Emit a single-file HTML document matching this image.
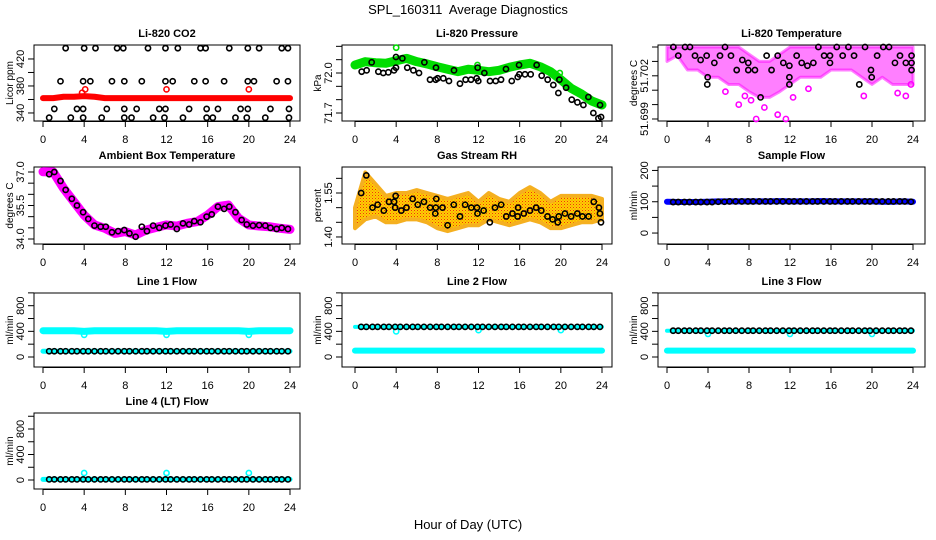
<!DOCTYPE html>
<html><head><meta charset="utf-8"><style>
html,body{margin:0;padding:0;background:#fff;}
svg{display:block;font-family:"Liberation Sans",sans-serif;}
</style></head><body>
<svg id="c" width="936" height="540" viewBox="0 0 936 540" xmlns="http://www.w3.org/2000/svg">
<defs><pattern id="rhpat" width="3" height="3" patternUnits="userSpaceOnUse"><rect width="3" height="3" fill="#ffd000"/><rect width="1" height="1" fill="#f03010"/><rect x="1.5" y="1.5" width="1" height="1" fill="#f07010"/></pattern></defs>
<text x="468" y="14" text-anchor="middle" font-size="13" xml:space="preserve">SPL_160311  Average Diagnostics</text>
<text x="468" y="529" text-anchor="middle" font-size="13">Hour of Day (UTC)</text>
</svg>
<script>
// ---------- data ----------
const hours = [0,1,2,3,4,5,6,7,8,9,10,11,12,13,14,15,16,17,18,19,20,21,22,23,24];
const blackHours = [0.6,1.1,1.7,2.2,2.8,3.3,3.9,4.4,5.0,5.6,6.1,6.7,7.3,7.9,8.4,9.0,9.6,10.1,10.7,11.3,11.9,12.4,13.0,13.6,14.2,14.7,15.3,15.9,16.4,17.0,17.6,18.1,18.7,19.3,19.8,20.4,21.0,21.6,22.1,22.7,23.2,23.8];
const xTicks = [0,4,8,12,16,20,24];
// CO2
const co2Red = [362,362,364,364,365,364,362,362,362,362,362,362,362,362,362,362,362,362,362,362,362,362,362,362,362];
const co2RedSpikeH = [3.8,4.1,12.0,20.0];
const co2RedSpikeV = [370,375,375,375];
const co2BlkH = [2.2,4.0,5.1,7.2,7.8,10.2,11.9,13.1,15.3,15.8,18.1,19.9,21.0,23.2,23.8, 1.7,3.9,4.6,6.7,7.9,9.6,11.9,12.6,14.7,15.8,17.6,19.9,20.5,22.7,23.8, 1.1,3.3,3.9,6.2,7.9,9.1,11.3,11.9,14.2,15.9,17.0,19.2,19.9,22.1,23.9, 0.6,2.7,3.9,5.7,7.9,8.6,10.7,11.8,13.6,15.9,16.5,18.7,19.8,21.6,23.9];
const co2BlkV = [436,436,436,436,436,436,436,436,436,436,436,436,436,436,436, 387,387,387,387,387,387,387,387,387,387,387,387,387,387,387, 346,346,346,346,346,346,346,346,346,346,346,346,346,346,346, 333,333,333,333,333,333,333,333,333,333,333,333,333,333,333];
// Pressure
const presGreen = [72.06,72.085,72.077,72.073,72.092,72.11,72.085,72.068,72.047,72.028,72.01,72.028,72.02,72.01,72.02,72.043,72.06,72.073,72.047,72.01,71.95,71.885,71.843,71.79,71.76];
const presGreenOutH = [4.0,11.9,19.9];
const presGreenOutV = [72.19,72.06,72.0];
const presBlkH = [0.65,1.13,1.62,2.27,2.75,3.24,3.79,3.98,3.98,4.6,5.08,5.67,6.22,6.74,7.29,7.84,7.87,8.03,8.58,9.13,9.62,10.2,10.75,11.27,11.82,11.98,11.92,12.57,13.12,13.67,14.19,14.67,15.23,15.81,15.94,15.97,16.52,17.07,17.65,18.14,18.72,19.27,19.76,19.86,20.51,21.06,21.61,22.19,22.68,23.16,23.65,23.91,23.81];
const presBlkV = [72.01,72.02,72.08,72.01,72.0,72.005,72.02,72.04,72.12,72.11,72.04,72.02,72.0,72.08,71.95,71.95,72.04,71.96,71.96,71.94,72.02,71.92,71.95,71.95,71.96,71.94,72.04,72.0,71.94,71.94,71.95,72.03,71.94,71.97,72.06,71.99,71.99,71.99,72.06,71.98,71.95,71.91,71.85,71.95,71.89,71.8,71.78,71.76,71.82,71.7,71.66,71.67,71.76];
// Li-820 temperature
const tempHi = [51.704,51.704,51.704,51.704,51.704,51.704,51.704,51.704,51.7035,51.703,51.703,51.7035,51.704,51.704,51.704,51.704,51.704,51.704,51.704,51.704,51.704,51.704,51.704,51.704,51.704];
const tempLo = [51.7030,51.7034,51.7024,51.7024,51.7019,51.7019,51.7014,51.7014,51.7009,51.7005,51.7005,51.7009,51.7014,51.7019,51.7019,51.7019,51.7024,51.7024,51.7024,51.7019,51.7014,51.7019,51.7014,51.7014,51.7014];
const tempMagOutH = [5.7,7.0,7.6,8.2,8.7,9.5,10.8,11.6,12.3,13.8,19.2,22.5,23.3,23.8];
const tempMagOutV = [51.7009,51.7000,51.7006,51.7003,51.6990,51.6998,51.6993,51.6990,51.7005,51.7011,51.7006,51.7008,51.7006,51.7014];
const tempBlkH = [0.62,1.1,1.76,2.24,2.73,3.28,3.87,3.97,3.93,4.62,5.17,5.66,6.24,6.8,7.35,7.93,7.93,8.58,9.13,9.72,10.2,10.8,11.35,11.94,11.94,11.94,12.65,13.14,13.7,14.28,14.77,15.33,15.9,15.9,16.56,17.14,17.7,18.25,18.76,19.32,19.9,19.97,20.5,21.1,21.66,22.24,22.73,23.3,23.86,23.86,23.86];
const tempBlkV = [51.704,51.7034,51.704,51.704,51.7034,51.7031,51.7034,51.7019,51.7014,51.7029,51.7034,51.704,51.7034,51.7024,51.7031,51.7029,51.7024,51.7024,51.7005,51.7034,51.7024,51.7034,51.7029,51.7027,51.7019,51.7014,51.7034,51.7029,51.7027,51.7029,51.704,51.7034,51.7034,51.7029,51.704,51.7034,51.704,51.7034,51.7014,51.704,51.7024,51.7019,51.7034,51.704,51.704,51.7029,51.7034,51.7029,51.7034,51.7029,51.7024];
// Ambient box temperature
const ambMag = [37.01,37.0,36.27,35.67,35.07,34.63,34.48,34.25,34.33,34.18,34.40,34.52,34.63,34.58,34.70,34.78,35.07,35.45,35.52,34.93,34.63,34.58,34.55,34.48,34.43];
const ambBlk = [36.9,37.0,36.6,36.2,35.8,35.5,35.2,34.9,34.6,34.55,34.55,34.3,34.35,34.4,34.25,34.1,34.55,34.35,34.6,34.5,34.6,34.65,34.45,34.7,34.65,34.8,34.75,35.0,35.1,35.45,35.35,35.45,35.2,34.85,34.65,34.6,34.62,34.6,34.5,34.45,34.5,34.45];
// Gas stream RH
const rhHi = [1.50,1.62,1.58,1.54,1.55,1.55,1.56,1.55,1.54,1.53,1.54,1.55,1.52,1.55,1.53,1.52,1.55,1.57,1.55,1.52,1.54,1.54,1.54,1.54,1.53];
const rhLo = [1.43,1.46,1.47,1.45,1.45,1.46,1.46,1.45,1.43,1.42,1.43,1.44,1.44,1.46,1.45,1.44,1.45,1.46,1.45,1.43,1.43,1.44,1.45,1.45,1.46];
const rhBlkH = [0.6,1.1,1.7,2.2,2.8,3.3,3.8,3.9,3.95,4.5,5.0,5.6,6.1,6.7,7.3,7.8,7.85,7.9,8.5,9.0,9.6,10.2,10.7,11.3,11.9,11.85,12.5,13.1,13.6,14.2,14.7,15.3,15.8,15.85,16.4,17.0,17.6,18.1,18.7,19.2,19.7,19.8,20.4,21.0,21.6,22.1,22.7,23.2,23.7,23.8,23.9];
const rhBlkV = [1.55,1.61,1.50,1.51,1.49,1.52,1.52,1.50,1.54,1.49,1.50,1.53,1.51,1.52,1.50,1.48,1.50,1.53,1.50,1.44,1.51,1.47,1.51,1.50,1.48,1.50,1.49,1.45,1.50,1.51,1.47,1.48,1.47,1.50,1.48,1.49,1.50,1.49,1.47,1.46,1.45,1.47,1.48,1.47,1.48,1.47,1.47,1.52,1.50,1.48,1.45];
// Sample flow
const sampBlue = [100,99,99,99,100,101,101,101,101,101,101,102,101,101,101,102,101,101,101,101,101,100,100,101,100];
const sampBlk = [99,99,99,99,99,99,99,99,100,100,101,101,101,101,101,101,101,101,101,101,101,101,101,101,101,101,101,101,101,101,101,101,101,101,101,101,101,101,101,101,101,100];
// Line flows
const l1CyanHi = [410,410,410,410,400,410,410,410,410,410,410,410,400,410,410,410,410,410,410,410,400,410,410,410,410];
const l1CyanLo = [90,90,90,90,90,90,90,90,90,90,90,90,90,90,90,90,90,90,90,90,90,90,90,90,90];
const l1Blk = [90,90,90,90,90,90,90,90,90,90,90,90,90,90,90,90,90,90,90,90,90,90,90,90,90,90,90,90,90,90,90,90,90,90,90,90,90,90,90,90,90,90];
const l1DipH = [4,12,20]; const l1DipV = [345,345,345];
const l2CyanHi = [470,470,470,470,470,470,470,470,470,470,470,470,470,470,470,470,470,470,470,470,470,470,470,470,470];
const l2CyanLo = [100,100,100,100,100,100,100,100,100,100,100,100,100,100,100,100,100,100,100,100,100,100,100,100,100];
const l2Blk = [470,470,470,470,470,470,470,470,470,470,470,470,470,470,470,470,470,470,470,470,470,470,470,470,470,470,470,470,470,470,470,470,470,470,470,470,470,470,470,470,470,470];
const l2DipH = [4,12,20]; const l2DipV = [400,420,420];
const l3CyanHi = [410,410,410,410,410,410,410,410,410,410,410,410,410,410,410,410,410,410,410,410,410,410,410,410,410];
const l3CyanLo = [100,100,100,100,100,100,100,100,100,100,100,100,100,100,100,100,100,100,100,100,100,100,100,100,100];
const l3Blk = [410,410,410,410,410,410,410,410,410,410,410,410,410,410,410,410,410,410,410,410,410,410,410,410,410,410,410,410,410,410,410,410,410,410,410,410,410,410,410,410,410,410];
const l3DipH = [4,12,20]; const l3DipV = [360,360,360];
const l4Cyan = [10,10,10,10,10,10,10,10,10,10,10,10,10,10,10,10,10,10,10,10,10,10,10,10,10];
const l4Blk = [10,10,10,10,10,10,10,10,10,10,10,10,10,10,10,10,10,10,10,10,10,10,10,10,10,10,10,10,10,10,10,10,10,10,10,10,10,10,10,10,10,10];
const l4SpikeH = [4,12,20]; const l4SpikeV = [110,110,110];

// ---------- drawing ----------
const NS = 'http://www.w3.org/2000/svg';
const svg = document.getElementById('c');
const COLS = [{L:34,R:300,x0:43,x24:290},{L:342,R:612,x0:355,x24:602},{L:658,R:925,x0:667,x24:913}];
const ROWS = [{T:45,B:121},{T:167,B:244},{T:293,B:367},{T:413,B:489}];
function mk(tag, attrs, parent){ const e=document.createElementNS(NS,tag); for(const k in attrs) e.setAttribute(k,attrs[k]); (parent||svg).appendChild(e); return e; }

function panel(col,row,title,ylab,dom,ticks,labels,name){
  const c=COLS[col], r=ROWS[row];
  const g=mk('g',{});
  
  
  const xs=h=>c.x0+h/24*(c.x24-c.x0);
  const ys=v=>r.B-(v-dom[0])/(dom[1]-dom[0])*(r.B-r.T);
  const t=mk('text',{x:(c.L+c.R)/2,y:r.T-8,'text-anchor':'middle','font-size':11,'font-weight':'bold'},g);
  t.textContent=title;
  
  
  const yl=mk('text',{x:0,y:0,'text-anchor':'middle','font-size':10,transform:`translate(${c.L-21},${(r.T+r.B)/2}) rotate(-90)`},g);
  yl.textContent=ylab;
  
  
  xTicks.forEach(h=>{
    mk('line',{x1:xs(h),x2:xs(h),y1:r.B,y2:r.B+6,stroke:'#000','stroke-width':1},g);
    const tx=mk('text',{x:xs(h),y:r.B+22,'text-anchor':'middle','font-size':11},g);
    tx.textContent=h;
    
    
  });
  mk('line',{x1:xs(0),x2:xs(24),y1:r.B+0.5,y2:r.B+0.5,stroke:'#000'},g);
  ticks.forEach((v,i)=>{
    mk('line',{x1:c.L-6,x2:c.L,y1:ys(v),y2:ys(v),stroke:'#000'},g);
    if(labels[i]!==''){
      const ty=mk('text',{x:0,y:0,'text-anchor':'middle','font-size':11,transform:`translate(${c.L-10},${ys(v)}) rotate(-90)`},g);
      ty.textContent=labels[i];
      
      
    }
  });
  const box=mk('rect',{x:c.L,y:r.T,width:c.R-c.L,height:r.B-r.T,fill:'none',stroke:'#000','stroke-width':1},g);
  
  
  return {g,xs,ys};
}
function band(p,hs,vs,color,w,name){
  const pts=hs.map((h,i)=>p.xs(h)+','+p.ys(vs[i])).join(' ');
  const l=mk('polyline',{points:pts,fill:'none',stroke:color,'stroke-width':w,'stroke-linejoin':'round','stroke-linecap':'round'},p.g);
  
  
}
function pts(p,hs,vs,color,name,r){
  hs.forEach((h,i)=>{
    const e=mk('circle',{cx:p.xs(h),cy:p.ys(vs[i]),r:r||2.6,fill:'none',stroke:color,'stroke-width':1.6},p.g);
    
    
  });
}
function area(p,hs,hi,lo,fill,stroke,sw,op,name){
  const up=hs.map((h,i)=>p.xs(h)+','+p.ys(hi[i]));
  const dn=hs.map((h,i)=>p.xs(h)+','+p.ys(lo[i])).reverse();
  const e=mk('polygon',{points:up.concat(dn).join(' '),fill:fill,stroke:stroke,'stroke-width':sw,'stroke-linejoin':'round','fill-opacity':op,'stroke-opacity':op},p.g);
  
  
}

// CO2
let p=panel(0,0,'Li-820 CO2','Licor ppm',[328.1,440.7],[340,360,380,400,420],['340','','380','','420'],'co2');
band(p,hours,co2Red,'#ff0000',6,'co2-red-series');
pts(p,co2RedSpikeH,co2RedSpikeV,'#ff0000','co2-red-point');
pts(p,co2BlkH,co2BlkV,'#000','co2-black-point');
// Pressure
p=panel(1,0,'Li-820 Pressure','kPa',[71.64,72.21],[71.7,71.8,71.9,72.0,72.1,72.2],['71.7','','','72.0','',''],'pressure');
band(p,hours,presGreen,'#00dd00',9,'pressure-green-series');
pts(p,presGreenOutH,presGreenOutV,'#00dd00','pressure-green-point');
pts(p,presBlkH,presBlkV,'#000','pressure-black-point');
// Li-820 temp
p=panel(2,0,'Li-820 Temperature','degrees C',[51.69886,51.70414],[51.699,51.700,51.701,51.702,51.703,51.704],['51.699','','','51.702','',''],'li820-temp');
area(p,hours,tempHi,tempLo,'#ff00ff','#ff00ff',3,0.5,'li820-temp-magenta-band');
pts(p,tempMagOutH,tempMagOutV,'#ff00ff','li820-temp-magenta-point');
pts(p,tempBlkH,tempBlkV,'#000','li820-temp-black-point');
// Ambient
p=panel(0,1,'Ambient Box Temperature','degrees C',[33.776,37.224],[34,34.5,35,35.5,36,36.5,37],['34.0','','','35.5','','','37.0'],'ambient');
band(p,hours,ambMag,'#ff00ff',9,'ambient-magenta-series');
pts(p,blackHours,ambBlk,'#000','ambient-black-point');
// RH
p=panel(1,1,'Gas Stream RH','percent',[1.376,1.6387],[1.40,1.45,1.50,1.55,1.60],['1.40','','','1.55',''],'rh');
area(p,hours,rhHi,rhLo,'url(#rhpat)','#f5b020',4,1,'rh-orange-band');
pts(p,rhBlkH,rhBlkV,'#000','rh-black-point');
// Sample flow
p=panel(2,1,'Sample Flow','ml/min',[-35,211],[0,50,100,150,200],['0','','100','','200'],'sample-flow');
band(p,hours,sampBlue,'#0000ff',6,'sample-flow-blue-series');
pts(p,blackHours,sampBlk,'#000','sample-flow-black-point');
// Line 1
const fT=[0,200,400,600,800,1000], fL=['0','','400','','800',''];
p=panel(0,2,'Line 1 Flow','ml/min',[-156,998],fT,fL,'line1');
band(p,hours,l1CyanHi,'#00ffff',7,'line1-cyan-high-series');
band(p,hours,l1CyanLo,'#00ffff',5,'line1-cyan-low-series');
pts(p,l1DipH,l1DipV,'#00ffff','line1-cyan-point');
pts(p,blackHours,l1Blk,'#000','line1-black-point');
// Line 2
p=panel(1,2,'Line 2 Flow','ml/min',[-156,998],fT,fL,'line2');
band(p,hours,l2CyanHi,'#00ffff',4,'line2-cyan-high-series');
band(p,hours,l2CyanLo,'#00ffff',6,'line2-cyan-low-series');
pts(p,l2DipH,l2DipV,'#00ffff','line2-cyan-point');
pts(p,blackHours,l2Blk,'#000','line2-black-point');
// Line 3
p=panel(2,2,'Line 3 Flow','ml/min',[-156,998],fT,fL,'line3');
band(p,hours,l3CyanHi,'#00ffff',4,'line3-cyan-high-series');
band(p,hours,l3CyanLo,'#00ffff',6,'line3-cyan-low-series');
pts(p,l3DipH,l3DipV,'#00ffff','line3-cyan-point');
pts(p,blackHours,l3Blk,'#000','line3-black-point');
// Line 4
p=panel(0,3,'Line 4 (LT) Flow','ml/min',[-141,1051],fT,fL,'line4');
band(p,hours,l4Cyan,'#00ffff',5,'line4-cyan-series');
pts(p,l4SpikeH,l4SpikeV,'#00ffff','line4-cyan-point');
pts(p,blackHours,l4Blk,'#000','line4-black-point');
</script>
</body></html>
